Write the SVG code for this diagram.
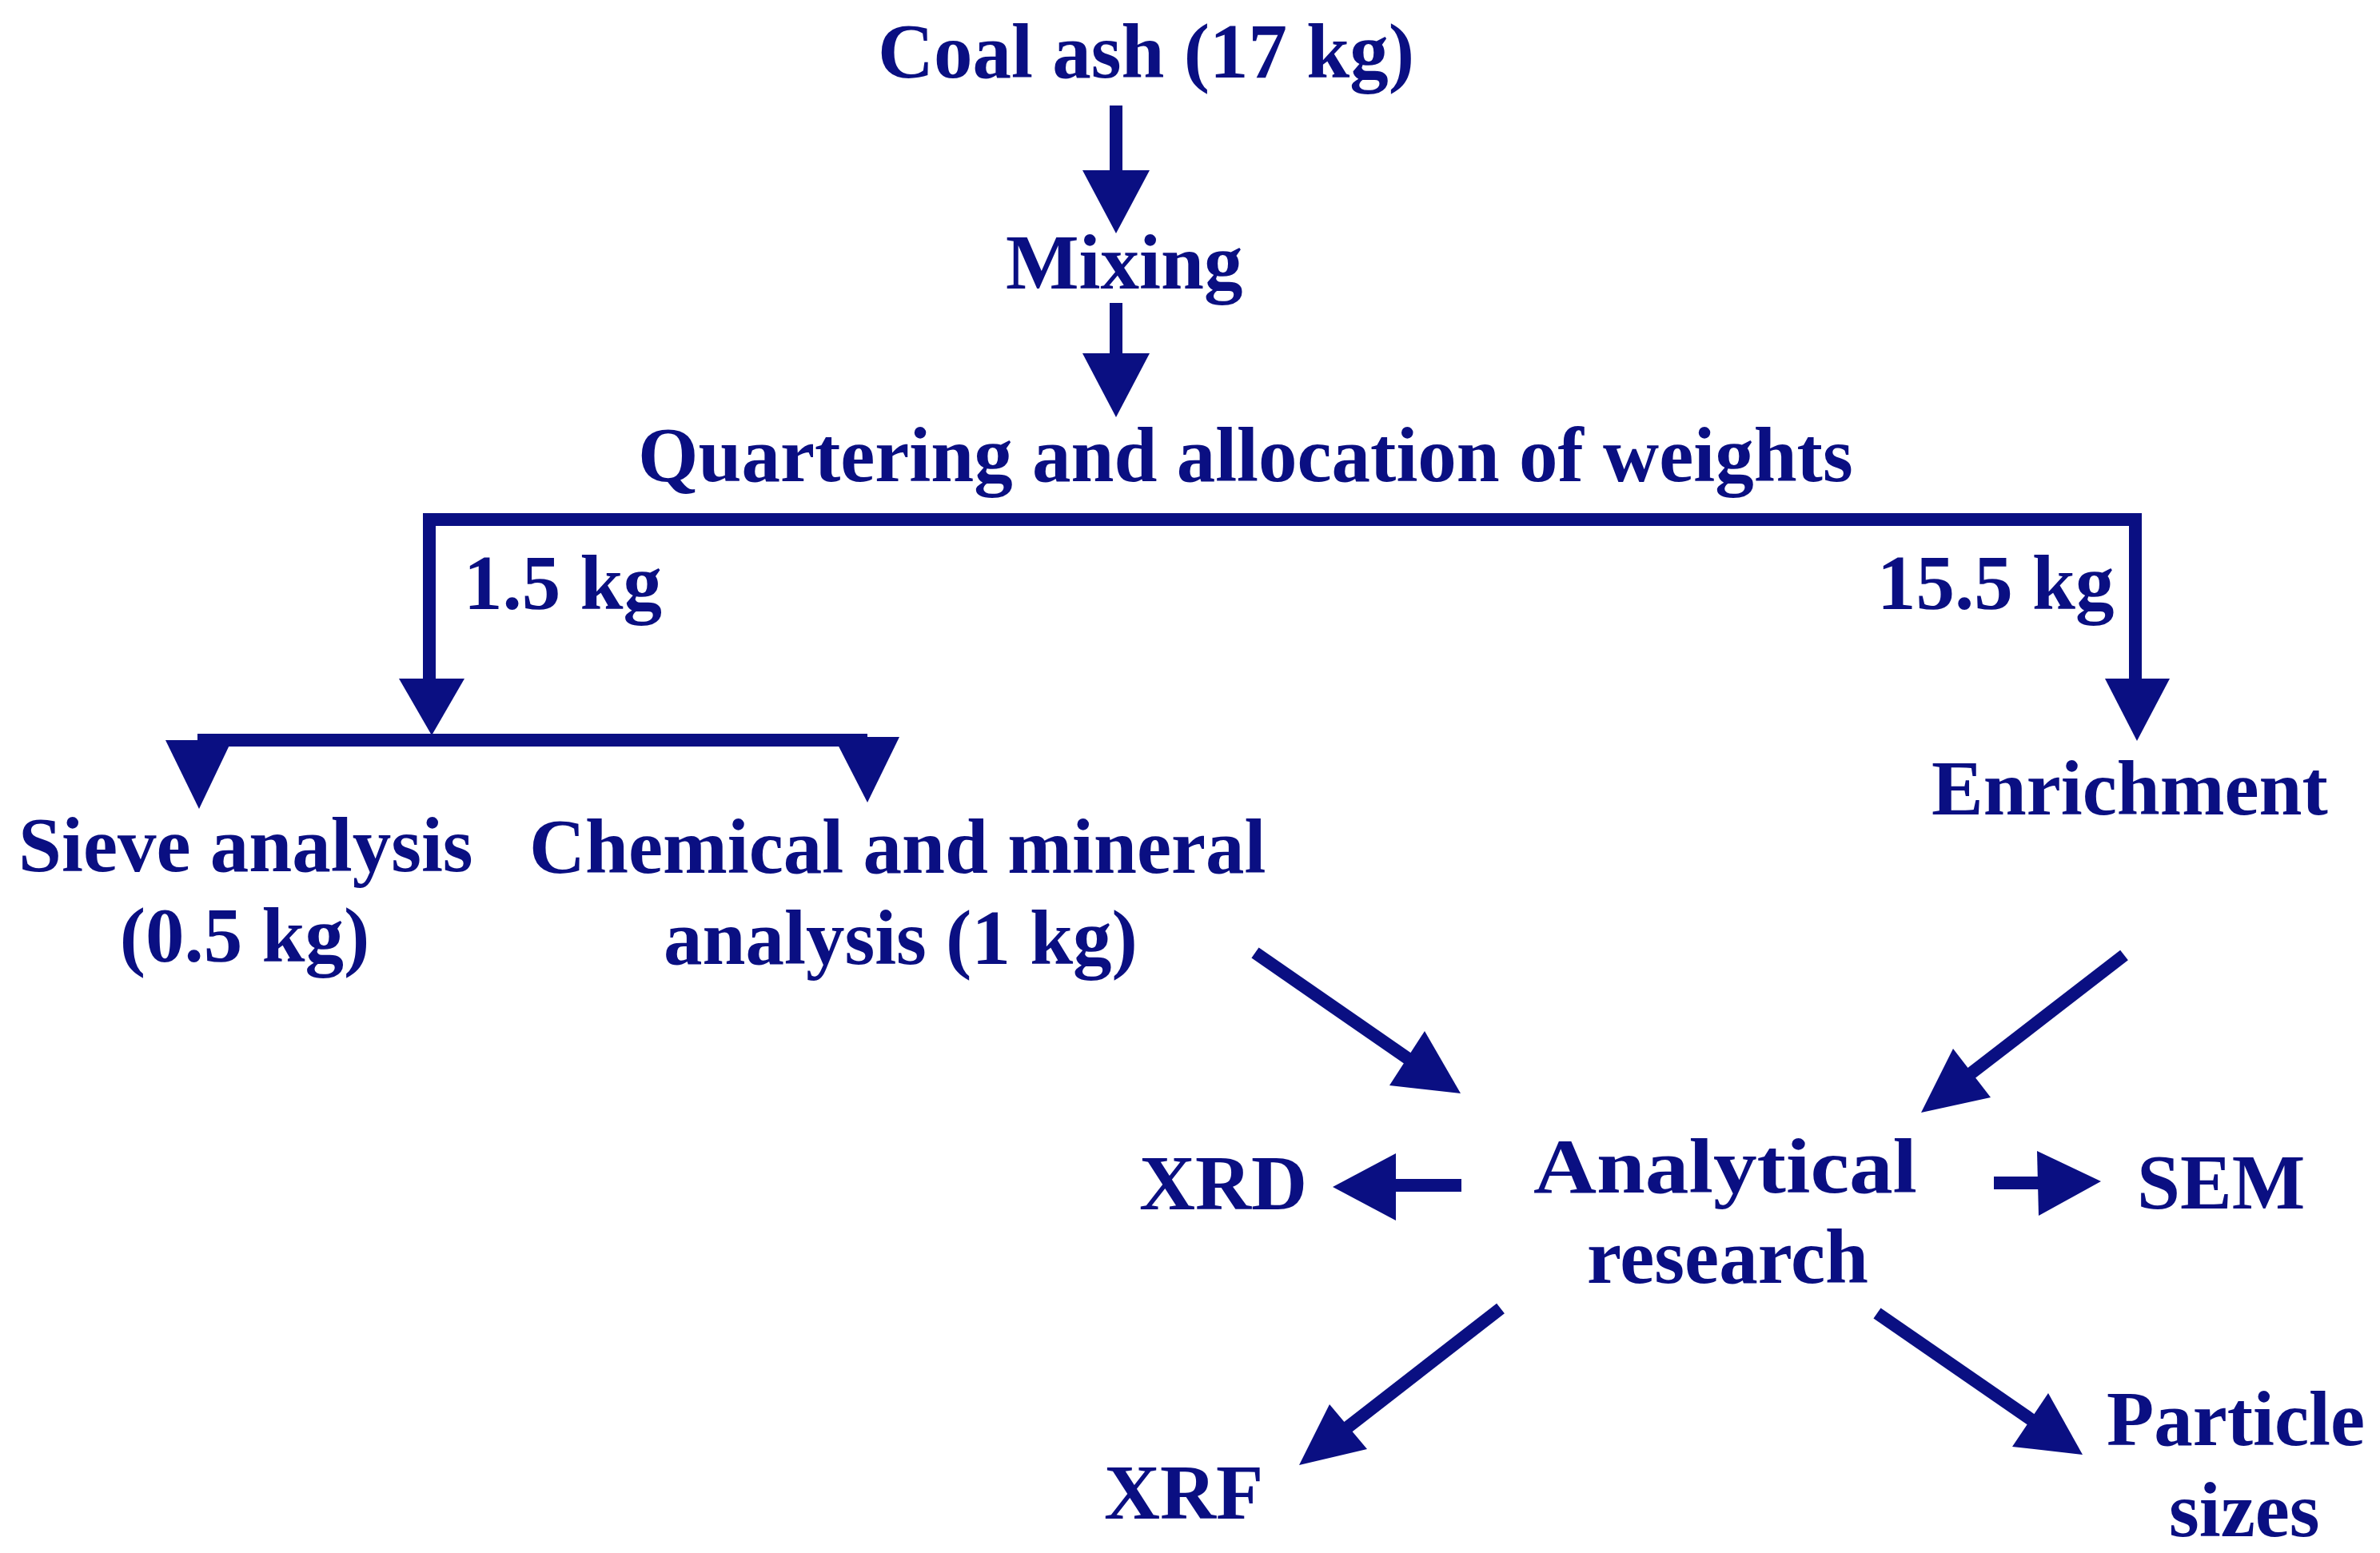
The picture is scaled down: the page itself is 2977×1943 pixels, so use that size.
<svg xmlns="http://www.w3.org/2000/svg" width="2977" height="1943" viewBox="0 0 2977 1943">
<style>
  text { font-family: "Liberation Serif", "Times New Roman", serif; font-weight: bold; font-size: 97px; fill: #0a0f82; }
  .shaft { stroke: #0a0f82; stroke-width: 16; fill: none; stroke-linecap: butt; }
  .head { fill: #0a0f82; stroke: none; }
</style>
<rect width="2977" height="1943" fill="#ffffff"/>
<g id="connectors">
  <!-- Coal ash -> Mixing -->
  <line class="shaft" x1="1396" y1="132" x2="1396" y2="215"/>
  <polygon class="head" points="1354,213 1438,213 1396,292"/>
  <!-- Mixing -> Quartering -->
  <line class="shaft" x1="1396" y1="379" x2="1396" y2="444"/>
  <polygon class="head" points="1354,442 1438,442 1396,522"/>
  <!-- Quartering split bar -->
  <polyline class="shaft" points="537,851 537,650 2671,650 2671,851"/>
  <polygon class="head" points="499,849 581,849 540,920"/>
  <polygon class="head" points="2633,849 2714,849 2673,927"/>
  <!-- 1.5 kg split bar -->
  <line class="shaft" x1="247" y1="926" x2="1085" y2="926"/>
  <polygon class="head" points="207,926 290,926 249,1012"/>
  <polygon class="head" points="1043,922 1125,922 1085,1004"/>
  <!-- Chemical -> Analytical -->
  <line class="shaft" x1="1570" y1="1192" x2="1762" y2="1325"/>
  <polygon class="head" points="1782,1290 1738,1358 1827,1368"/>
  <!-- Enrichment -> Analytical -->
  <line class="shaft" x1="2657" y1="1195" x2="2464" y2="1344"/>
  <polygon class="head" points="2443,1312 2490,1373 2403,1392"/>
  <!-- Analytical -> XRD -->
  <line class="shaft" x1="1828" y1="1483" x2="1743" y2="1483"/>
  <polygon class="head" points="1746,1443 1746,1527 1667,1485"/>
  <!-- Analytical -> SEM -->
  <line class="shaft" x1="2494" y1="1480" x2="2551" y2="1480"/>
  <polygon class="head" points="2548,1440 2550,1521 2628,1478"/>
  <!-- Analytical -> XRF -->
  <line class="shaft" x1="1877" y1="1637" x2="1684" y2="1787"/>
  <polygon class="head" points="1663,1757 1710,1813 1625,1833"/>
  <!-- Analytical -> Particle sizes -->
  <line class="shaft" x1="2348" y1="1643" x2="2542" y2="1777"/>
  <polygon class="head" points="2562,1743 2517,1810 2605,1820"/>
</g>
<g id="node-coal-ash"><text x="1098" y="97">Coal ash (17 kg)</text></g>
<g id="node-mixing"><text x="1258" y="361">Mixing</text></g>
<g id="node-quartering"><text x="798" y="602">Quartering and allocation of weights</text></g>
<g id="label-1-5kg"><text x="580" y="762">1.5 kg</text></g>
<g id="label-15-5kg"><text x="2348" y="762">15.5 kg</text></g>
<g id="node-sieve">
  <text x="23" y="1090">Sieve analysis</text>
  <text x="306" y="1203" text-anchor="middle">(0.5 kg)</text>
</g>
<g id="node-chemical">
  <text x="662" y="1092">Chemical and mineral</text>
  <text x="830" y="1206">analysis (1 kg)</text>
</g>
<g id="node-enrichment"><text x="2416" y="1019">Enrichment</text></g>
<g id="node-analytical">
  <text x="1918" y="1492" textLength="480" lengthAdjust="spacingAndGlyphs">Analytical</text>
  <text x="1985" y="1605">research</text>
</g>
<g id="node-xrd"><text x="1425" y="1513">XRD</text></g>
<g id="node-sem"><text x="2673" y="1512">SEM</text></g>
<g id="node-xrf"><text x="1381" y="1900">XRF</text></g>
<g id="node-particle">
  <text x="2635" y="1808">Particle</text>
  <text x="2713" y="1922">sizes</text>
</g>
</svg>
